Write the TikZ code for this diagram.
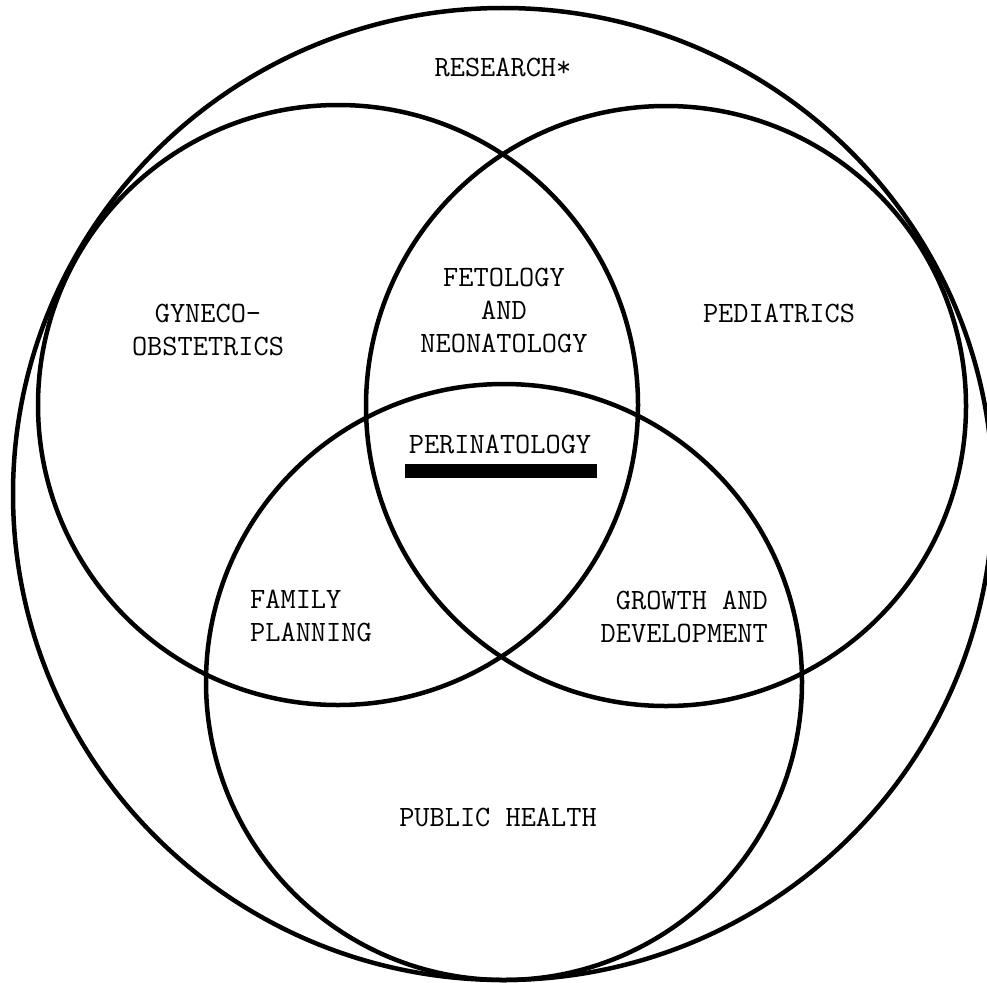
\documentclass[tikz,border=0pt]{standalone}
\usepackage{tikz}

\begin{document}
\begin{tikzpicture}[x=1pt, y=-1pt,
    ring/.style={line width=4.5pt},
    lbl/.style={font=\fontsize{29.5}{33}\selectfont\ttfamily, inner sep=0pt}]
    \useasboundingbox (0,0) rectangle (987,982);
    % outer field and the three disciplines
    \draw[ring] (503,494) ellipse [x radius=490, y radius=486];
    \draw[ring] (338,405) circle [radius=300];
    \draw[ring] (666,406) circle [radius=300];
    \draw[ring] (504,682) circle [radius=298];
    \node[lbl] (research) at (503,67) {RESEARCH*};
    \node[lbl, align=center] (gyneco) at (208,330) {GYNECO-\\OBSTETRICS};
    \node[lbl] (pediatrics) at (779,313) {PEDIATRICS};
    \node[lbl, align=center] (fetology) at (504,310) {FETOLOGY\\AND\\NEONATOLOGY};
    \node[lbl] (perinatology) at (500,444) {PERINATOLOGY};
    \fill (405,464) rectangle (597,478);
    \node[lbl, align=left, anchor=west] (family) at (250,616) {FAMILY\\PLANNING};
    \node[lbl, align=right, anchor=east] (growth) at (768,617) {GROWTH AND\\DEVELOPMENT};
    \node[lbl] (publichealth) at (498,817) {PUBLIC HEALTH};
\end{tikzpicture}
\end{document}
